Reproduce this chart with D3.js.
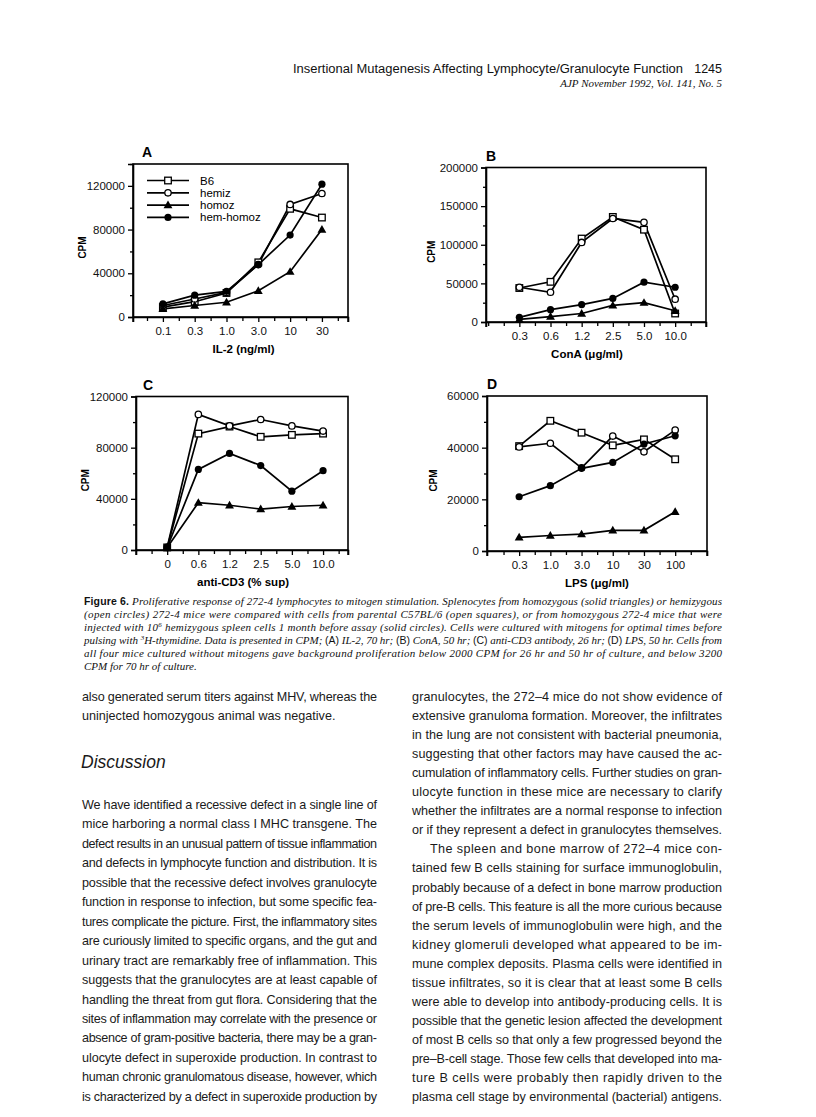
<!DOCTYPE html>
<html><head><meta charset="utf-8">
<script src="https://cdn.jsdelivr.net/npm/d3@7"></script>
<style>
body{margin:0;background:#fff;}
svg{display:block;}
</style></head>
<body>
<svg id="page" width="816" height="1117"></svg>
<script>
// ---------------- DATA ----------------
const seriesNames = ["B6", "hemiz", "homoz", "hem-homoz"];

const il2Labels = ["0.1", "0.3", "1.0", "3.0", "10", "30"];
const il2_B6 = [9000, 14000, 22000, 50000, 99000, 91000];
const il2_hemiz = [10500, 16500, 22500, 48000, 103000, 113000];
const il2_homoz = [7500, 10500, 13500, 24000, 41500, 80000];
const il2_hemHomoz = [12000, 20000, 23500, 48000, 75000, 121500];

const conALabels = ["0.3", "0.6", "1.2", "2.5", "5.0", "10.0"];
const conA_B6 = [44000, 52000, 108000, 136000, 119500, 11000];
const conA_hemiz = [45000, 38500, 103000, 134000, 129000, 29500];
const conA_homoz = [3500, 7000, 11000, 21500, 25000, 14500];
const conA_hemHomoz = [6000, 16000, 22500, 30500, 51500, 45000];

const cd3Labels = ["0", "0.6", "1.2", "2.5", "5.0", "10.0"];
const cd3_B6 = [2000, 91000, 96500, 88500, 90000, 91000];
const cd3_hemiz = [2000, 106000, 97000, 102000, 97000, 93000];
const cd3_homoz = [2000, 37000, 35000, 32000, 34000, 35000];
const cd3_hemHomoz = [2000, 63000, 75500, 66000, 46000, 62000];

const lpsLabels = ["0.3", "1.0", "3.0", "10", "30", "100"];
const lps_B6 = [40600, 50400, 45800, 40900, 43200, 35500];
const lps_hemiz = [40300, 41700, 32200, 44500, 38400, 46800];
const lps_homoz = [5300, 6000, 6500, 8000, 8000, 15200];
const lps_hemHomoz = [21000, 25300, 32000, 34300, 41400, 44600];

const ticksA = [0, 40000, 80000, 120000];
const ticksB = [0, 50000, 100000, 150000, 200000];
const ticksC = [0, 40000, 80000, 120000];
const ticksD = [0, 20000, 40000, 60000];

// ---------------- DRAWING ----------------
const svg = d3.select("#page");
const SANS = "'Liberation Sans', Arial, Helvetica, sans-serif";
const SERIF = "'Liberation Serif', 'Times New Roman', serif";

const markerKind = {"B6": "openSquare", "hemiz": "openCircle", "homoz": "triangle", "hem-homoz": "dot"};

function drawMarker(g, kind, x, y) {
  if (kind === "openSquare") {
    g.append("rect").attr("x", x - 3.3).attr("y", y - 3.3).attr("width", 6.6).attr("height", 6.6)
      .attr("fill", "#fff").attr("stroke", "#000").attr("stroke-width", 1.3);
  } else if (kind === "openCircle") {
    g.append("circle").attr("cx", x).attr("cy", y).attr("r", 3.2)
      .attr("fill", "#fff").attr("stroke", "#000").attr("stroke-width", 1.3);
  } else if (kind === "triangle") {
    g.append("path").attr("d", d3.symbol(d3.symbolTriangle, 34)())
      .attr("transform", `translate(${x},${y + 0.6})`).attr("fill", "#000");
  } else {
    g.append("circle").attr("cx", x).attr("cy", y).attr("r", 3.6).attr("fill", "#000");
  }
}

function drawPanel(cfg) {
  const g = svg.append("g");
  const n = cfg.labels.length;
  const x = d3.scaleLinear().domain([-cfg.padL, n - 1 + cfg.padR]).range([cfg.left, cfg.right]);
  const y = d3.scaleLinear().domain([0, cfg.yMax]).range([cfg.bottom, cfg.top]);

  // frame
  g.append("rect").attr("x", cfg.left).attr("y", cfg.top)
    .attr("width", cfg.right - cfg.left).attr("height", cfg.bottom - cfg.top)
    .attr("fill", "none").attr("stroke", "#000").attr("stroke-width", 1.6);

  // y axis (major + minor ticks)
  const yAxis = d3.axisLeft(y).tickValues(cfg.yTicks).tickFormat(d3.format("d")).tickSize(5).tickPadding(3);
  g.append("g").attr("transform", `translate(${cfg.left},0)`).call(yAxis);
  const minorY = d3.range(0, cfg.yMax + 1, cfg.yMinor).filter(v => !cfg.yTicks.includes(v));
  g.append("g").attr("transform", `translate(${cfg.left},0)`)
    .call(d3.axisLeft(y).tickValues(minorY).tickFormat("").tickSize(3))
    .select(".domain").remove();

  // x axis (category ticks + half ticks)
  const xAxis = d3.axisBottom(x).tickValues(d3.range(n)).tickFormat(i => cfg.labels[i]).tickSize(5).tickPadding(5);
  g.append("g").attr("transform", `translate(0,${cfg.bottom})`).call(xAxis);
  const minorX = d3.range(-Math.floor(cfg.padL * 2) / 2, n - 1 + cfg.padR, 0.5)
    .filter(v => Math.abs(v - Math.round(v)) > 0.1 || v < 0 || v > n - 1)
    .filter(v => x(v) > cfg.left + 2 && x(v) < cfg.right - 2);
  g.append("g").attr("transform", `translate(0,${cfg.bottom})`)
    .call(d3.axisBottom(x).tickValues(minorX).tickFormat("").tickSize(4))
    .select(".domain").remove();
  g.append("line").attr("x1", cfg.left).attr("x2", cfg.left).attr("y1", cfg.bottom).attr("y2", cfg.bottom + 5).attr("stroke", "#000").attr("stroke-width", 1.4);
  g.append("line").attr("x1", cfg.right).attr("x2", cfg.right).attr("y1", cfg.bottom).attr("y2", cfg.bottom + 5).attr("stroke", "#000").attr("stroke-width", 1.4);

  g.selectAll(".domain").attr("stroke", "#000").attr("stroke-width", 1.6);
  g.selectAll(".tick line").attr("stroke", "#000").attr("stroke-width", 1.3);
  g.selectAll(".tick text").attr("font-family", SANS).attr("font-size", 11.5).attr("fill", "#111");

  // lines
  const line = d3.line().x((d, i) => x(i)).y(d => y(d));
  cfg.series.forEach(s => {
    g.append("path").datum(s.values).attr("d", line)
      .attr("fill", "none").attr("stroke", "#000").attr("stroke-width", 1.7);
  });
  cfg.series.forEach(s => {
    s.values.forEach((v, i) => drawMarker(g, markerKind[s.name], x(i), y(v)));
  });

  // titles
  g.append("text").attr("x", cfg.left + cfg.letterDx).attr("y", cfg.top - 7)
    .attr("font-family", SANS).attr("font-weight", "bold").attr("font-size", 14).text(cfg.letter);
  g.append("text").attr("x", (cfg.left + cfg.right) / 2 + cfg.xTitleDx).attr("y", cfg.bottom + 36)
    .attr("text-anchor", "middle").attr("font-family", SANS).attr("font-weight", "bold")
    .attr("font-size", 11.5).text(cfg.xTitle);
  g.append("text").attr("transform", `translate(${cfg.left - cfg.cpmDx},${(cfg.top + cfg.bottom) / 2 + 7}) rotate(-90)`)
    .attr("text-anchor", "middle").attr("font-family", SANS).attr("font-weight", "bold")
    .attr("font-size", 10).text("CPM");

  if (cfg.legend) {
    seriesNames.forEach((name, i) => {
      const ly = cfg.top + 16.5 + i * 12.3;
      g.append("line").attr("x1", cfg.left + 14).attr("x2", cfg.left + 56).attr("y1", ly).attr("y2", ly)
        .attr("stroke", "#000").attr("stroke-width", 1.7);
      drawMarker(g, markerKind[name], cfg.left + 35, ly);
      g.append("text").attr("x", cfg.left + 67).attr("y", ly + 4).attr("font-family", SANS)
        .attr("font-size", 11.5).text(name);
    });
  }
}

function mk(names, arrs) { return names.map((nm, i) => ({name: nm, values: arrs[i]})); }

drawPanel({letter: "A", letterDx: 9, labels: il2Labels, left: 133, right: 348, top: 164, bottom: 317,
  padL: 0.94, padR: 0.82, yMax: 140000, yTicks: ticksA, yMinor: 20000, xTitle: "IL-2 (ng/ml)", xTitleDx: 3, legend: true, cpmDx: 47,
  series: mk(seriesNames, [il2_B6, il2_hemiz, il2_homoz, il2_hemHomoz])});
drawPanel({letter: "B", letterDx: 0, labels: conALabels, left: 486, right: 706, top: 167.5, bottom: 322,
  padL: 1.07, padR: 0.99, yMax: 200000, yTicks: ticksB, yMinor: 25000, xTitle: "ConA (\u03bcg/ml)", xTitleDx: -9, legend: false, cpmDx: 51,
  series: mk(seriesNames, [conA_B6, conA_hemiz, conA_homoz, conA_hemHomoz])});
drawPanel({letter: "C", letterDx: 7, labels: cd3Labels, left: 136, right: 348, top: 396.5, bottom: 550,
  padL: 1.0, padR: 0.8, yMax: 120000, yTicks: ticksC, yMinor: 20000, xTitle: "anti-CD3 (% sup)", xTitleDx: 1, legend: false, cpmDx: 47,
  series: mk(seriesNames, [cd3_B6, cd3_hemiz, cd3_homoz, cd3_hemHomoz])});
drawPanel({letter: "D", letterDx: 0, labels: lpsLabels, left: 487, right: 707, top: 396, bottom: 551,
  padL: 1.03, padR: 1.02, yMax: 60000, yTicks: ticksD, yMinor: 10000, xTitle: "LPS (\u03bcg/ml)", xTitleDx: 0, legend: false, cpmDx: 50,
  series: mk(seriesNames, [lps_B6, lps_hemiz, lps_homoz, lps_hemHomoz])});

// ---------------- PAGE TEXT ----------------
svg.append("text").attr("x", 293).attr("y", 73).attr("font-family", SANS).attr("font-size", 12.5)
  .attr("textLength", 390).attr("lengthAdjust", "spacingAndGlyphs").attr("fill", "#111")
  .text("Insertional Mutagenesis Affecting Lymphocyte/Granulocyte Function");
svg.append("text").attr("x", 722).attr("y", 73).attr("text-anchor", "end").attr("font-family", SANS)
  .attr("font-size", 12.5).attr("fill", "#111").text("1245");
svg.append("text").attr("x", 722).attr("y", 87).attr("text-anchor", "end").attr("font-family", SERIF)
  .attr("font-style", "italic").attr("font-size", 11).attr("fill", "#111").text("AJP November 1992, Vol. 141, No. 5");

// caption
const capLeft = 84, capRight = 722, capY0 = 605, capDy = 13;
const capLines = [
  [["b", "Figure 6. "], ["i", "Proliferative response of 272-4 lymphocytes to mitogen stimulation. Splenocytes from homozygous (solid triangles) or hemizygous"]],
  [["i", "(open circles) 272-4 mice were compared with cells from parental C57BL/6 (open squares), or from homozygous 272-4 mice that were"]],
  [["i", "injected with 10"], ["sup", "6"], ["i", " hemizygous spleen cells 1 month before assay (solid circles). Cells were cultured with mitogens for optimal times before"]],
  [["i", "pulsing with "], ["sup", "3"], ["i", "H-thymidine. Data is presented in CPM; "], ["r", "(A)"], ["i", " IL-2, 70 hr; "], ["r", "(B)"], ["i", " ConA, 50 hr; "], ["r", "(C)"], ["i", " anti-CD3 antibody, 26 hr; "], ["r", "(D)"], ["i", " LPS, 50 hr. Cells from"]],
  [["i", "all four mice cultured without mitogens gave background proliferation below 2000 CPM for 26 hr and 50 hr of culture, and below 3200"]],
  [["i", "CPM for 70 hr of culture."]]
];
capLines.forEach((parts, li) => {
  const t = svg.append("text").attr("x", capLeft).attr("y", capY0 + li * capDy).attr("font-size", 11).attr("fill", "#111");
  parts.forEach(([k, s]) => {
    const ts = t.append("tspan").text(s);
    if (k === "b") ts.attr("font-family", SANS).attr("font-weight", "bold").attr("font-size", 10.5);
    else if (k === "r") ts.attr("font-family", SANS).attr("font-size", 10.5);
    else if (k === "sup") ts.attr("font-family", SERIF).attr("font-style", "italic").attr("font-size", 7).attr("baseline-shift", "super");
    else ts.attr("font-family", SERIF).attr("font-style", "italic");
  });
  if (li < capLines.length - 1) t.attr("textLength", capRight - capLeft).attr("lengthAdjust", "spacing");
});

// body text
function column(lines, x0, x1, y0, dy) {
  lines.forEach((ln, i) => {
    const indent = ln.indent ? 18 : 0;
    const t = svg.append("text").attr("x", x0 + indent).attr("y", y0 + i * dy)
      .attr("font-family", SANS).attr("font-size", 12.6).attr("fill", "#1a1a1a").text(ln.t);
    if (ln.j) t.attr("textLength", x1 - x0 - indent).attr("lengthAdjust", "spacing");
  });
}
const L = (t, j = true, indent = false) => ({t, j, indent});

column([L("also generated serum titers against MHV, whereas the"), L("uninjected homozygous animal was negative.", false)], 82, 377, 701, 19.4);
svg.append("text").attr("x", 81).attr("y", 768).attr("font-family", SANS).attr("font-style", "italic")
  .attr("font-size", 17.5).attr("fill", "#1a1a1a").text("Discussion");
column([
  L("We have identified a recessive defect in a single line of"),
  L("mice harboring a normal class I MHC transgene. The"),
  L("defect results in an unusual pattern of tissue inflammation"),
  L("and defects in lymphocyte function and distribution. It is"),
  L("possible that the recessive defect involves granulocyte"),
  L("function in response to infection, but some specific fea-"),
  L("tures complicate the picture. First, the inflammatory sites"),
  L("are curiously limited to specific organs, and the gut and"),
  L("urinary tract are remarkably free of inflammation. This"),
  L("suggests that the granulocytes are at least capable of"),
  L("handling the threat from gut flora. Considering that the"),
  L("sites of inflammation may correlate with the presence or"),
  L("absence of gram-positive bacteria, there may be a gran-"),
  L("ulocyte defect in superoxide production. In contrast to"),
  L("human chronic granulomatous disease, however, which"),
  L("is characterized by a defect in superoxide production by")
], 82, 377, 809, 19.45);
column([
  L("granulocytes, the 272\u20134 mice do not show evidence of"),
  L("extensive granuloma formation. Moreover, the infiltrates"),
  L("in the lung are not consistent with bacterial pneumonia,"),
  L("suggesting that other factors may have caused the ac-"),
  L("cumulation of inflammatory cells. Further studies on gran-"),
  L("ulocyte function in these mice are necessary to clarify"),
  L("whether the infiltrates are a normal response to infection"),
  L("or if they represent a defect in granulocytes themselves."),
  L("The spleen and bone marrow of 272\u20134 mice con-", true, true),
  L("tained few B cells staining for surface immunoglobulin,"),
  L("probably because of a defect in bone marrow production"),
  L("of pre-B cells. This feature is all the more curious because"),
  L("the serum levels of immunoglobulin were high, and the"),
  L("kidney glomeruli developed what appeared to be im-"),
  L("mune complex deposits. Plasma cells were identified in"),
  L("tissue infiltrates, so it is clear that at least some B cells"),
  L("were able to develop into antibody-producing cells. It is"),
  L("possible that the genetic lesion affected the development"),
  L("of most B cells so that only a few progressed beyond the"),
  L("pre\u2013B-cell stage. Those few cells that developed into ma-"),
  L("ture B cells were probably then rapidly driven to the"),
  L("plasma cell stage by environmental (bacterial) antigens.")
], 412, 722, 701, 19.05);
</script>
</body></html>
